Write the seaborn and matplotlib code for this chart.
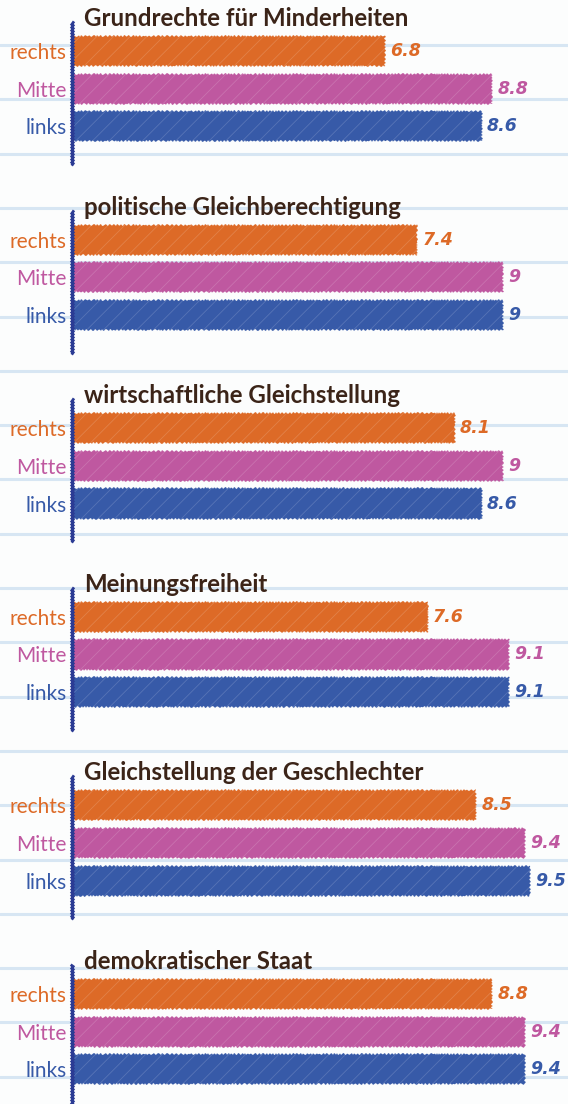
import matplotlib
matplotlib.use("Agg")
import matplotlib.pyplot as plt
from matplotlib.lines import Line2D
import seaborn as sns
import pandas as pd

# Werte je Thema (Skala 1-10)
themen = [
    "Grundrechte für Minderheiten",
    "politische Gleichberechtigung",
    "wirtschaftliche Gleichstellung",
    "Meinungsfreiheit",
    "Gleichstellung der Geschlechter",
    "demokratischer Staat",
]
gruppen = ["rechts", "Mitte", "links"]
rechts = [6.8, 7.4, 8.1, 7.6, 8.5, 8.8]
mitte = [8.8, 9.0, 9.0, 9.1, 9.4, 9.4]
links = [8.6, 9.0, 8.6, 9.1, 9.5, 9.4]

farben = {"rechts": "#dd6a27", "Mitte": "#bf58a0", "links": "#375aa8"}

W, H = 568, 1104
sns.set_theme(style="white")
plt.rcParams["font.family"] = ["Lato", "DejaVu Sans"]
plt.rcParams["hatch.linewidth"] = 0.6

fig = plt.figure(figsize=(W / 100, H / 100), dpi=100, facecolor="#fcfdfd")

# Linienpapier im Hintergrund
for k in range(20):
    y = 45 + 54.3 * k
    fig.add_artist(Line2D([0, 1], [1 - y / H] * 2, transform=fig.transFigure,
                          color="#d7e6f3", lw=2.2, zorder=-5))

ax_left, ax_right = 72, 557
x_min, x_max = 1.0, 10.0
panel_step = 188.6
panel_h = 142

for i, thema in enumerate(themen):
    top = 22 + panel_step * i
    ax = fig.add_axes([ax_left / W, 1 - (top + panel_h) / H,
                       (ax_right - ax_left) / W, panel_h / H])
    ax.set_facecolor("none")
    df = pd.DataFrame({"gruppe": gruppen,
                       "wert": [rechts[i], mitte[i], links[i]]})
    sns.barplot(data=df, x="wert", y="gruppe", hue="gruppe", order=gruppen,
                hue_order=gruppen, palette=farben, saturation=1, width=0.8,
                legend=False, ax=ax)
    for p in ax.patches:
        p.set_edgecolor((1, 1, 1, 0.16))
        p.set_linewidth(0)
        p.set_hatch("//")
        p.set_sketch_params(0.9, 4, 2)

    ax.set_xlim(x_min, x_max)
    ax.set_ylim(3.0, -0.77)
    ax.set_xticks([])
    ax.set_xlabel("")
    ax.set_ylabel("")
    for s in ["top", "right", "bottom"]:
        ax.spines[s].set_visible(False)
    sp = ax.spines["left"]
    sp.set_color("#2b3b94")
    sp.set_linewidth(2)
    sp.set_sketch_params(0.8, 3, 1)

    ax.tick_params(axis="y", length=0, pad=4, labelsize=15)
    for lab in ax.get_yticklabels():
        lab.set_color(farben[lab.get_text()])

    for j, g in enumerate(gruppen):
        v = df["wert"][j]
        ax.text(v + 0.1, j, f"{v:g}", va="center", ha="left",
                color=farben[g], fontsize=12.5, fontstyle="italic",
                fontweight="bold", family=["Liberation Sans Narrow", "DejaVu Sans"])

    fig.text(84 / W, 1 - (top + 4) / H, thema, fontsize=17.3,
             fontweight="bold", color="#3b2418", va="baseline", ha="left")

fig.savefig("out.png", dpi=100, facecolor=fig.get_facecolor())
